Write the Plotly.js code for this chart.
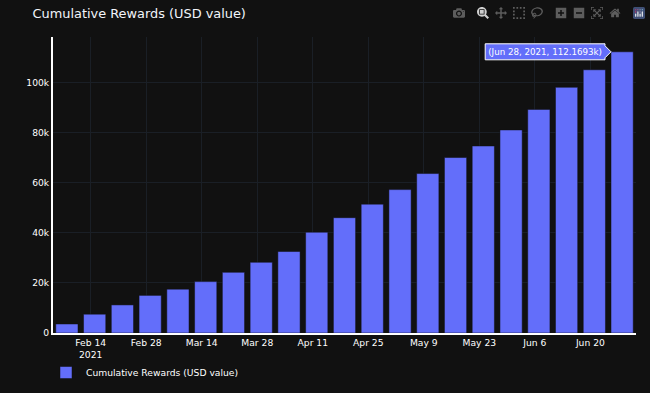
<!DOCTYPE html>
<html><head><meta charset="utf-8">
<script src="https://cdn.plot.ly/plotly-3.0.1.min.js"></script>
<style>html,body{margin:0;padding:0;background:#111111;overflow:hidden}
.js-plotly-plot .plotly .modebar-btn{font-size:12px !important;padding:3px !important}
.js-plotly-plot .plotly .modebar-group{padding-left:6px !important}
.modebar-btn--logo svg rect:first-of-type,.modebar-btn--logo svg g>rect:first-child{fill:#3f4f75 !important}
.modebar-btn--logo svg .cls-0{fill:#3f4f75 !important}
</style>
</head><body><div id="chart" style="width:650px;height:393px"></div>
<script>
const seriesName = "Cumulative Rewards (USD value)";
const dates = ["2021-02-08","2021-02-15","2021-02-22","2021-03-01","2021-03-08","2021-03-15","2021-03-22","2021-03-29","2021-04-05","2021-04-12","2021-04-19","2021-04-26","2021-05-03","2021-05-10","2021-05-17","2021-05-24","2021-05-31","2021-06-07","2021-06-14","2021-06-21","2021-06-28"];
const rewards = [3600,7500,11200,15000,17500,20500,24200,28200,32500,40200,46000,51400,57200,63600,70000,74600,81000,89200,98000,105000,112169.3];
const fontFam = "Verdana, 'DejaVu Sans', sans-serif";
const gd = document.getElementById('chart');
Plotly.newPlot(gd, [{
  type:'bar', x:dates, y:rewards, name:seriesName, showlegend:true,
  marker:{color:'#636efa', line:{color:'#111111', width:0.5}}
}], {
  width:650, height:393,
  paper_bgcolor:'#111111', plot_bgcolor:'#111111',
  font:{family:fontFam, color:'#ffffff', size:9.2},
  title:{text:seriesName, x:0.05, xanchor:'left', y:0.965, yanchor:'middle', font:{size:12.9, color:'#f2f5fa', family:fontFam}},
  margin:{l:53, r:14, t:37, b:60, pad:0, autoexpand:false},
  hovermode:'closest', bargap:0.2,
  hoverlabel:{font:{size:8.7, family:fontFam}},
  showlegend:true,
  legend:{orientation:'h', x:-0.012, xanchor:'left', y:-0.0845, yanchor:'top', font:{size:9.2}},
  modebar:{color:'rgba(255,255,255,0.32)', activecolor:'rgba(255,255,255,0.8)', bgcolor:'rgba(0,0,0,0)'},
  xaxis:{type:'date', showline:true, linecolor:'#ffffff', linewidth:2, gridcolor:'#1a1f26', gridwidth:1, zeroline:false,
         ticks:'', tick0:'2021-02-14', dtick:14*86400000, tickfont:{size:9.2}},
  yaxis:{showline:true, linecolor:'#ffffff', linewidth:2, gridcolor:'#1a1f26', zeroline:false, tickfont:{size:9.2}, rangemode:'tozero'}
}, {displayModeBar:true, responsive:false}).then(()=>{
  Plotly.Fx.hover(gd, [{curveNumber:0, pointNumber:20}]);
});
</script></body></html>
